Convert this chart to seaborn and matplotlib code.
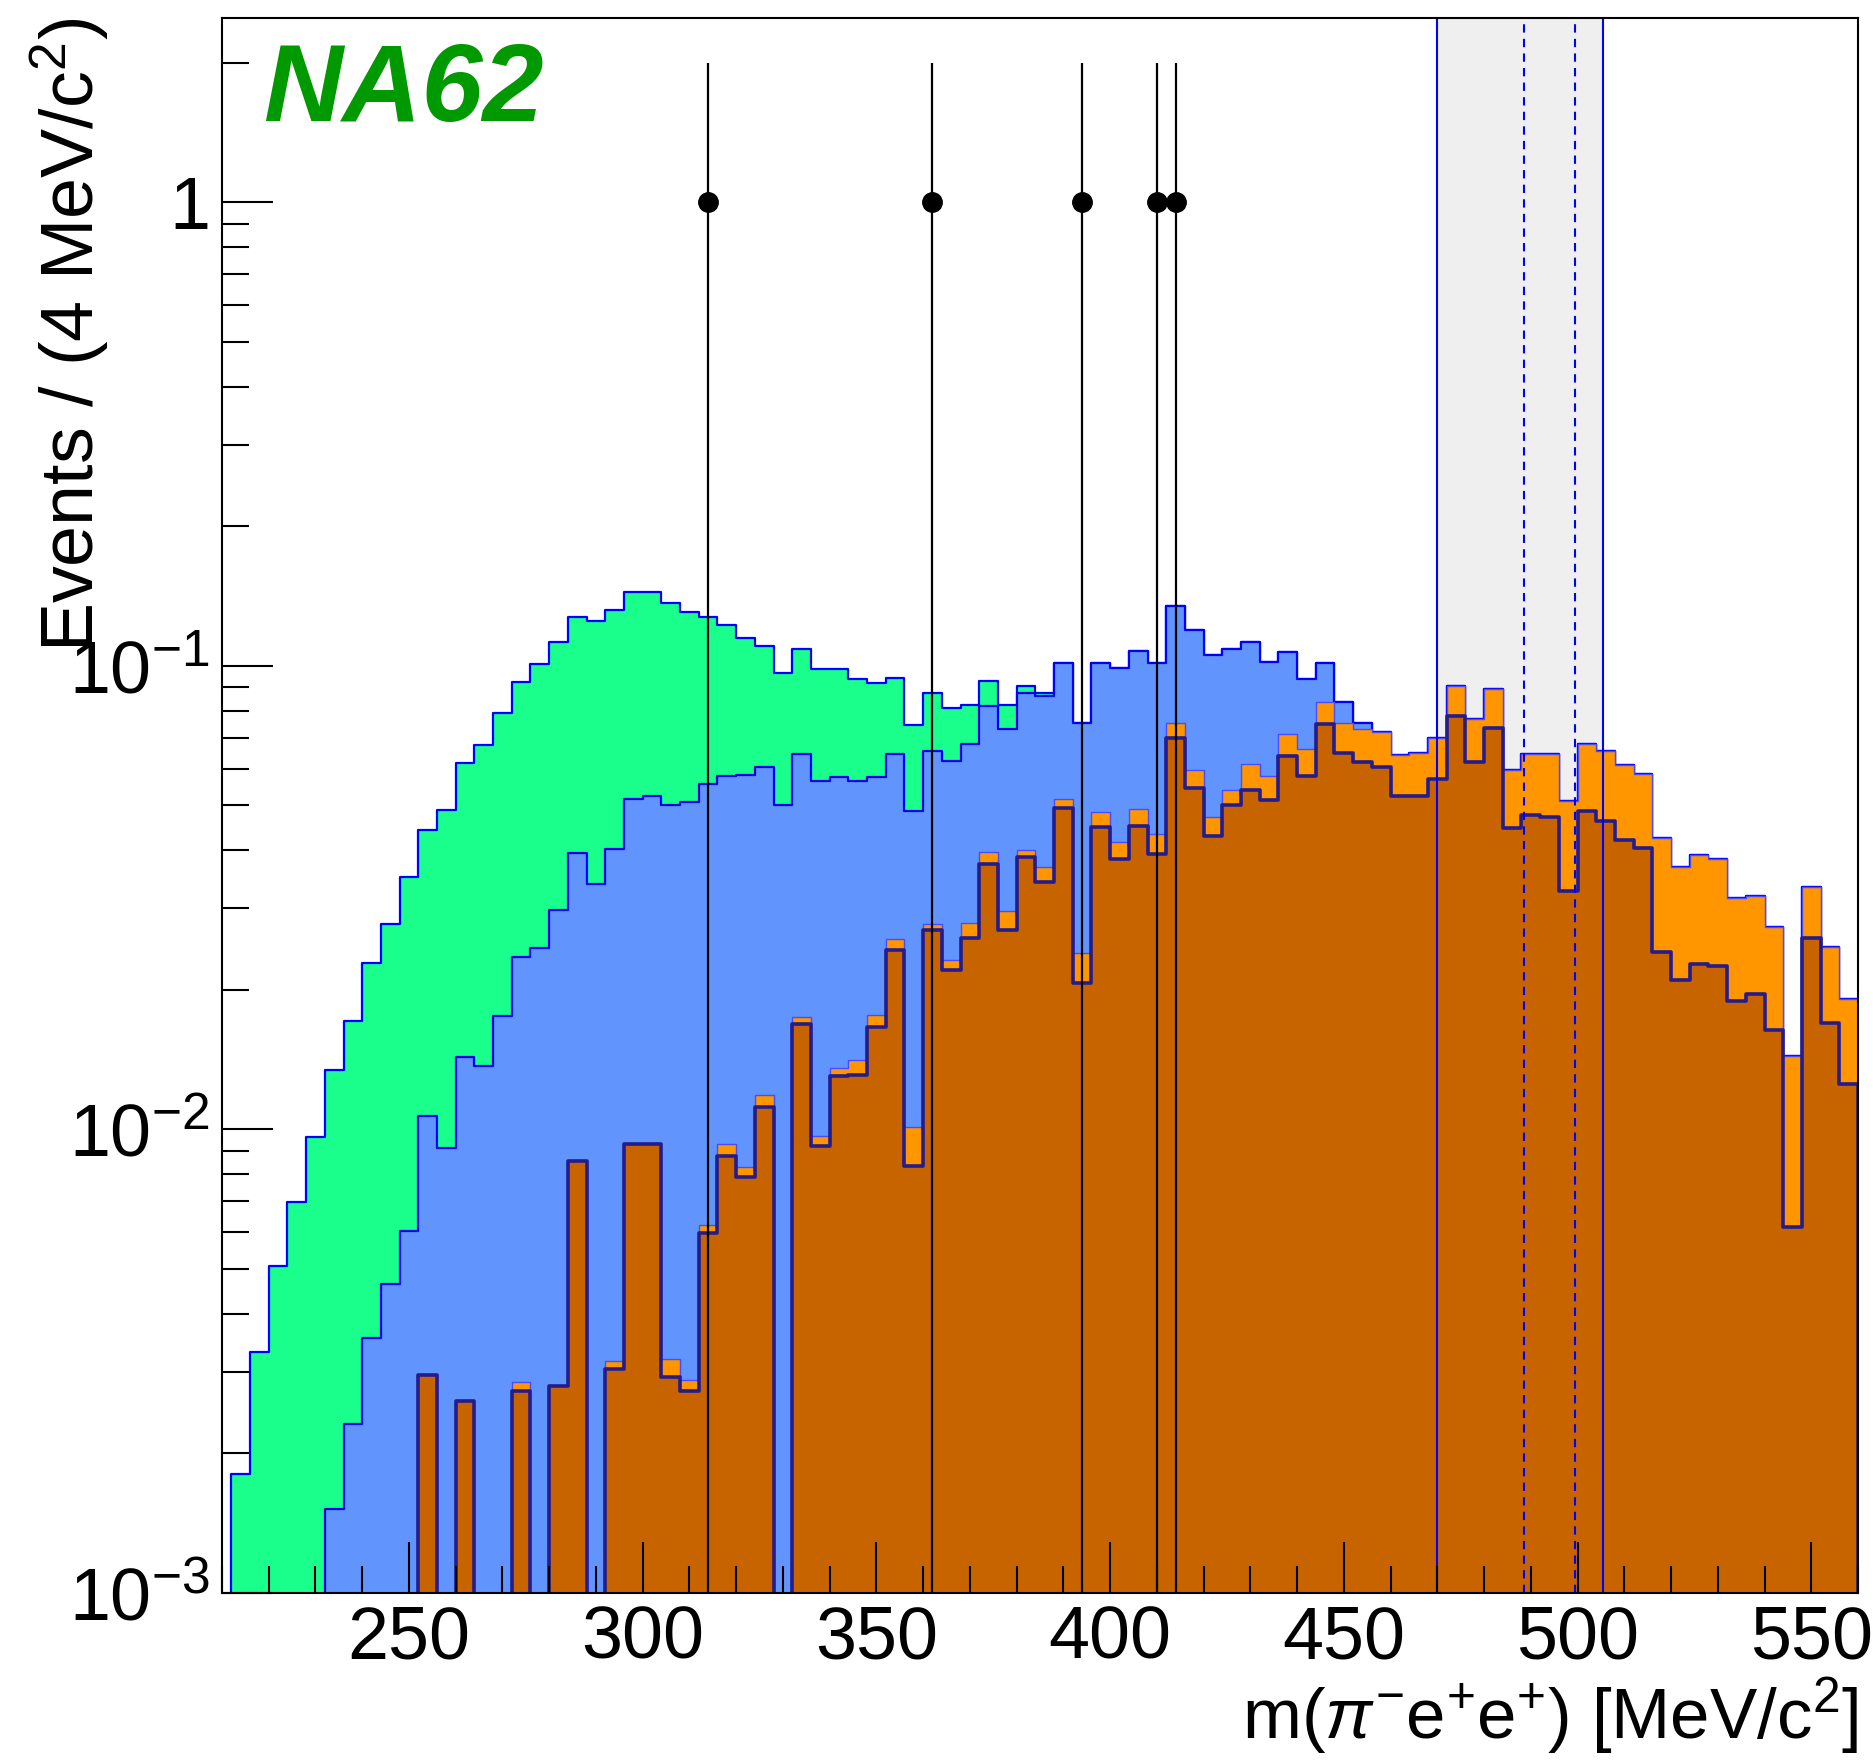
import numpy as np
import pandas as pd
import matplotlib
matplotlib.use("Agg")
import matplotlib.pyplot as plt
from matplotlib.ticker import MultipleLocator, LogLocator, NullFormatter
import seaborn as sns

# ---------------- data ----------------
bin_edges = [float(v) for v in range(212, 564, 4)]          # 4 MeV bins, 212 .. 560
bin_centers = [e + 2.0 for e in bin_edges[:-1]]

# top of the green layer (total stack)
total_mc = [0.00181, 0.00331, 0.00508, 0.00698, 0.00962, 0.01344, 0.01717, 0.02285, 0.02774, 0.03508,
            0.04424, 0.04894, 0.0619, 0.0675, 0.0791, 0.0925, 0.1010, 0.1124, 0.1273, 0.1253,
            0.1322, 0.1442, 0.1442, 0.1367, 0.1308, 0.1273, 0.1223, 0.1151, 0.1106, 0.0967,
            0.1087, 0.0983, 0.0983, 0.0935, 0.0920, 0.0941, 0.0744, 0.0875, 0.0812, 0.0823,
            0.0926, 0.0823, 0.0904, 0.0875, 0.1017, 0.0752, 0.1017, 0.0990, 0.1076, 0.1017,
            0.1350, 0.1195, 0.1056, 0.1090, 0.1126, 0.1018, 0.1072, 0.0935, 0.1013, 0.0835,
            0.0755, 0.0722, 0.0643, 0.0650, 0.0699, 0.0907, 0.0769, 0.0892, 0.0597, 0.0646,
            0.0646, 0.0511, 0.0680, 0.0657, 0.0610, 0.0585, 0.0425, 0.0369, 0.0391, 0.0384,
            0.0316, 0.0319, 0.0273, 0.01437, 0.0333, 0.0248, 0.0191]

# top of the blue layer
blue_mc = [0, 0, 0, 0, 0, 0.00152, 0.00231, 0.00355, 0.00464, 0.00603,
           0.01067, 0.00914, 0.01436, 0.01374, 0.01758, 0.0236, 0.0246, 0.0298, 0.0395, 0.0338,
           0.0403, 0.0516, 0.0525, 0.0502, 0.0509, 0.0556, 0.0578, 0.0582, 0.0604, 0.0502,
           0.0646, 0.0565, 0.0575, 0.0565, 0.0575, 0.0646, 0.0487, 0.0657, 0.0625, 0.0680,
           0.0818, 0.0732, 0.0875, 0.0860, 0.1017, 0.0752, 0.1017, 0.0990, 0.1076, 0.1017,
           0.1350, 0.1195, 0.1056, 0.1090, 0.1126, 0.1018, 0.1072, 0.0935, 0.1013, 0.0835,
           0.0755, 0.0722, 0.0643, 0.0650, 0.0699, 0.0907, 0.0769, 0.0892, 0.0597, 0.0646,
           0.0646, 0.0511, 0.0680, 0.0657, 0.0610, 0.0585, 0.0425, 0.0369, 0.0391, 0.0384,
           0.0316, 0.0319, 0.0273, 0.01437, 0.0333, 0.0248, 0.0191]

# top of the orange layer
orange_mc = [0, 0, 0, 0, 0, 0, 0, 0, 0, 0,
             0.00296, 0, 0.00259, 0, 0, 0.00285, 0, 0.00279, 0.00857, 0,
             0.00317, 0.00931, 0.00931, 0.00320, 0.00288, 0.00621, 0.0093, 0.00828, 0.01186, 0,
             0.01746, 0.0097, 0.01358, 0.01413, 0.01762, 0.0257, 0.0101, 0.0277, 0.0232, 0.0279,
             0.0397, 0.0296, 0.0401, 0.0369, 0.0516, 0.0240, 0.0483, 0.0418, 0.0491, 0.0435,
             0.0752, 0.0595, 0.0472, 0.0540, 0.0613, 0.0580, 0.0712, 0.0662, 0.0838, 0.0753,
             0.0730, 0.0722, 0.0643, 0.0650, 0.0699, 0.0907, 0.0769, 0.0892, 0.0597, 0.0646,
             0.0646, 0.0511, 0.0680, 0.0657, 0.0610, 0.0585, 0.0425, 0.0369, 0.0391, 0.0384,
             0.0316, 0.0319, 0.0273, 0.01437, 0.0333, 0.0248, 0.0191]

# top of the dark-orange layer
brown_mc = [0, 0, 0, 0, 0, 0, 0, 0, 0, 0,
            0.00296, 0, 0.00259, 0, 0, 0.00273, 0, 0.00279, 0.00857, 0,
            0.00305, 0.00931, 0.00931, 0.00292, 0.00273, 0.00597, 0.00877, 0.00788, 0.01117, 0,
            0.01688, 0.00922, 0.01303, 0.0131, 0.0166, 0.0244, 0.00834, 0.0270, 0.0221, 0.0259,
            0.0374, 0.0270, 0.0388, 0.0342, 0.0494, 0.0207, 0.0450, 0.0384, 0.0451, 0.0392,
            0.0700, 0.0545, 0.0430, 0.0500, 0.0540, 0.0515, 0.0638, 0.0580, 0.0748, 0.0650,
            0.0620, 0.0605, 0.0525, 0.0524, 0.0570, 0.0779, 0.0620, 0.0734, 0.0448, 0.0477,
            0.0473, 0.0327, 0.0486, 0.0462, 0.0421, 0.0404, 0.0242, 0.0210, 0.0227, 0.0225,
            0.0189, 0.0196, 0.0164, 0.00616, 0.0259, 0.0170, 0.01256]

# observed events
data_mass = [314, 362, 394, 410, 414]
data_counts = [1, 1, 1, 1, 1]
data_err = [1, 1, 1, 1, 1]

# signal region and inner window
signal_region = [470.0, 505.4]
inner_window = [488.6, 499.4]

x_ticks = [250, 300, 350, 400, 450, 500, 550]
y_ticks = [1e-3, 1e-2, 1e-1, 1]
y_tick_labels = [r"$10^{-3}$", r"$10^{-2}$", r"$10^{-1}$", "1"]

# ---------------- style ----------------
sns.set_style("white")
plt.rcParams["font.family"] = ["Liberation Sans", "DejaVu Sans"]
plt.rcParams["mathtext.fontset"] = "custom"
plt.rcParams["mathtext.rm"] = "Liberation Sans"
plt.rcParams["mathtext.it"] = "Liberation Sans:italic"
plt.rcParams["mathtext.bf"] = "Liberation Sans:bold"
for key in ["text.color", "axes.labelcolor", "xtick.color", "ytick.color"]:
    plt.rcParams[key] = "black"

FS = 53

fig = plt.figure(figsize=(18.74, 17.6), dpi=100)
ax = fig.add_axes([0.11846, 0.09489, 0.87300, 0.89488])
ax.set_yscale("log", nonpositive="clip")

ax.axvspan(signal_region[0], signal_region[1], color="#efefef", zorder=0.2, lw=0)

layers = [
    (total_mc, "#1aff8c", "#0000ff", 1.6),
    (blue_mc, "#6195fd", "#0000ff", 1.6),
    (orange_mc, "#ff9600", "#4a4aff", 1.0),
    (brown_mc, "#c86400", "#241c8c", 2.6),
]
for i, (vals, face, edge, lw) in enumerate(layers):
    df = pd.DataFrame({"mass": bin_centers, "w": vals})
    sns.histplot(data=df, x="mass", weights="w", bins=bin_edges, element="step",
                 fill=True, color=face, edgecolor=edge, linewidth=lw, alpha=1.0,
                 ax=ax, zorder=1 + i * 0.1)

for xv in signal_region:
    ax.axvline(xv, color="#0000ff", lw=1.5, zorder=5)
for xv in inner_window:
    ax.axvline(xv, color="#0000ff", lw=1.5, ls=(0, (4, 3)), zorder=5)

ax.errorbar(data_mass, data_counts, yerr=data_err, fmt="o", color="black",
            ms=14, elinewidth=1.6, capsize=0, zorder=10)

ax.set_xlim(210, 560)
ax.set_ylim(1e-3, 2.5)

ax.set_xticks(x_ticks)
ax.set_xticklabels([str(v) for v in x_ticks])
ax.xaxis.set_minor_locator(MultipleLocator(10))
ax.set_yticks(y_ticks)
ax.set_yticklabels(y_tick_labels)
ax.yaxis.set_minor_locator(LogLocator(base=10, subs=np.arange(2, 10)))
ax.yaxis.set_minor_formatter(NullFormatter())

ax.tick_params(which="both", direction="in", bottom=True, left=True, top=False, right=False,
               color="black", labelcolor="black", width=1.5, labelsize=FS)
ax.tick_params(which="major", length=37)
ax.tick_params(which="minor", length=19.5)
ax.tick_params(axis="y", pad=8.5)
ax.tick_params(axis="x", pad=8)
ax.set_axisbelow(False)
ax.xaxis.set_zorder(8)
ax.yaxis.set_zorder(8)

for s in ax.spines.values():
    s.set_color("black")
    s.set_linewidth(1.5)
    s.set_zorder(20)

ax.set_ylabel(r"Events / (4 MeV/c$^{2}$)", fontsize=FS, loc="top")
ax.yaxis.label.set_va("baseline")
ax.yaxis.set_label_coords(-0.078, 1.0)
ax.set_xlabel(r"m($\pi^{-}$e$^{+}$e$^{+}$) [MeV/c$^{2}$]", fontsize=51, loc="right")
ax.xaxis.label.set_va("baseline")
ax.xaxis.set_label_coords(1.0, -0.0927)

ax.text(0.025, 0.9346, "NA62", transform=ax.transAxes, fontsize=79,
        fontweight="bold", fontstyle="italic", color="#009900", va="baseline", zorder=15)

fig.savefig("out.png", dpi=100)
